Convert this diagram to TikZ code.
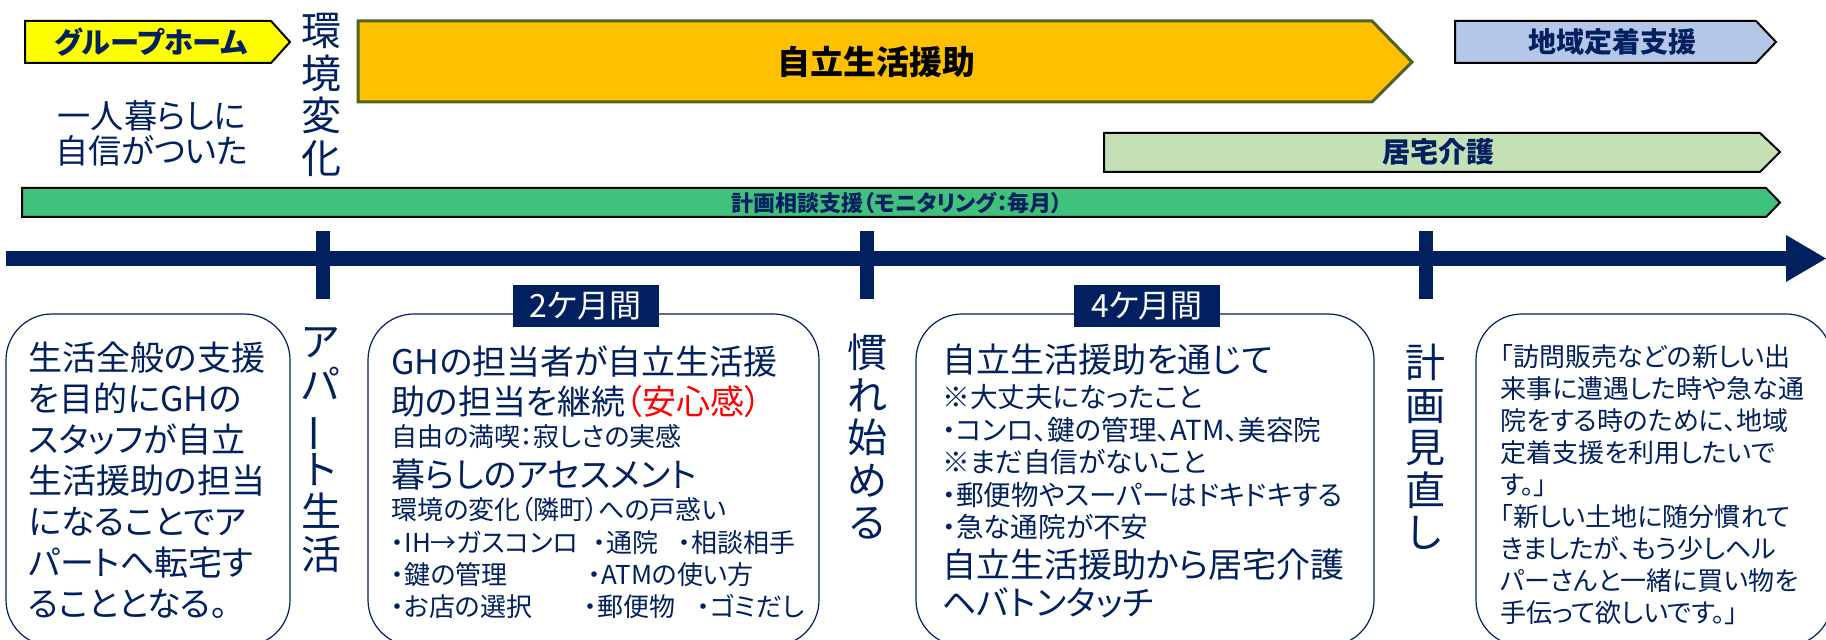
\documentclass[tikz,border=0pt]{standalone}
\usepackage{fontspec}
\usepackage{graphicx}
\setmainfont{Noto Sans CJK JP}[RawFeature=+palt]
\definecolor{navy}{RGB}{0,32,96}
\definecolor{ghyellow}{RGB}{255,255,0}
\definecolor{orangebar}{RGB}{255,192,0}
\definecolor{olive}{RGB}{79,98,40}
\definecolor{lightblue}{RGB}{180,199,231}
\definecolor{lightgreen}{RGB}{197,224,180}
\definecolor{midgreen}{RGB}{64,194,124}
\definecolor{alertred}{RGB}{255,0,0}
\begin{document}
\begin{tikzpicture}[x=0.5pt,y=-0.5pt,
  bigtxt/.style={inner sep=0pt, text=navy, anchor=base west, yshift=-6.5pt, font=\fontsize{17}{20}\selectfont},
  smalltxt/.style={inner sep=0pt, text=navy, anchor=base west, yshift=-5pt, font=\fontsize{13}{16}\selectfont},
  notetxt/.style={inner sep=0pt, text=navy, anchor=base west, yshift=-5.2pt, font=\fontsize{13.8}{16}\selectfont},
  quotetxt/.style={inner sep=0pt, text=navy, anchor=base west, yshift=-5pt, font=\fontsize{13}{16}\selectfont},
  vtext/.style={inner sep=0pt, text=navy, align=center, font=\fontsize{20}{21.25}\selectfont},
  rbox/.style={draw=navy, line width=0.6pt, rounded corners=23pt},
  periodlabel/.style={fill=navy, text=white, inner sep=0pt, minimum width=73pt, minimum height=21pt, font=\fontsize{16}{16}\selectfont},
  barshape/.style={draw=black, line width=1pt},
  barlabel/.style={inner sep=0pt, text=navy, font=\bfseries\fontsize{14}{14}\selectfont}
]
\useasboundingbox (0,0) rectangle (1826,640);
\clip (0,0) rectangle (1826,640);

% ---- top bars ----
\filldraw[barshape, fill=ghyellow] (25,21) -- (271,21) -- (290,42) -- (271,63) -- (25,63) -- cycle;
\node[barlabel, font=\bfseries\fontsize{14.6}{14.6}\selectfont] (gh) at (151,42) {グループホーム};

\filldraw[fill=orangebar, draw=olive, line width=1.5pt] (358,21) -- (1372,21) -- (1412,62) -- (1372,102) -- (358,102) -- cycle;
\node[inner sep=0pt, text=black, font=\bfseries\fontsize{16.5}{16.5}\selectfont] (jiritsu) at (876,62) {自立生活援助};

\filldraw[barshape, fill=lightblue] (1455,21) -- (1756,21) -- (1776,42) -- (1756,63) -- (1455,63) -- cycle;
\node[barlabel] (chiiki) at (1612,42) {地域定着支援};

\filldraw[barshape, fill=lightgreen] (1104,133) -- (1760,133) -- (1780,152) -- (1760,172) -- (1104,172) -- cycle;
\node[barlabel] (kyotaku) at (1438,152) {居宅介護};

\filldraw[barshape, fill=midgreen] (22,188) -- (1766,188) -- (1780,202.5) -- (1766,217) -- (22,217) -- cycle;
\node[inner sep=0pt, text=navy, font=\bfseries\fontsize{11}{11}\selectfont] (keikaku) at (897,202.5) {計画相談支援（モニタリング：毎月）};

\node[inner sep=0pt, text=navy, align=center, font=\fontsize{16.6}{17.5}\selectfont] (hitori) at (152,133) {一人暮らしに\\自信がついた};

\node[vtext] (kankyo) at (321,95) {環\\境\\変\\化};

% ---- timeline ----
\fill[navy] (6,251) rectangle (1788,266);
\fill[navy] (1786,235) -- (1826,258.5) -- (1786,282) -- cycle;
\fill[navy] (316,231) rectangle (330,299);
\fill[navy] (860,231) rectangle (874,299);
\fill[navy] (1419,231) rectangle (1433,299);

\node[vtext] (apart) at (321,450) {ア\\パ\\\rotatebox[origin=c]{90}{ー}\\ト\\生\\活};
\node[vtext] (nare) at (867,437) {慣\\れ\\始\\め\\る};
\node[vtext] (minaoshi) at (1425,447) {計\\画\\見\\直\\し};

% ---- rounded boxes ----
\draw[rbox] (6,314) rectangle (290,646);
\draw[rbox] (368,314) rectangle (819,646);
\draw[rbox] (916,314) rectangle (1374,646);
\draw[rbox] (1476,314) rectangle (1832,646);

\node[periodlabel] (two) at (585.5,306) {2ケ月間};
\node[periodlabel] (four) at (1147,306) {4ケ月間};

% box 1
\foreach \t [count=\i from 0] in {生活全般の支援, を目的にGHの, スタッフが自立, 生活援助の担当, になることでア, パートへ転宅す, ることとなる。}
  \node[bigtxt] (bA\i) at (28,358+41*\i) {\t};

% box 2
\node[bigtxt] (bB1) at (391,362) {GHの担当者が自立生活援};
\node[bigtxt] (bB2) at (391,402) {助の担当を継続{\color{alertred}（安心感）}};
\node[smalltxt] (bB3) at (391,437) {自由の満喫：寂しさの実感};
\node[bigtxt] (bB4) at (391,475) {暮らしのアセスメント};
\node[smalltxt] (bB5) at (391,510) {環境の変化（隣町）への戸惑い};
\node[smalltxt] (bB6a) at (391,543) {・IH→ガスコンロ};
\node[smalltxt] (bB6b) at (593,543) {・通院};
\node[smalltxt] (bB6c) at (678,543) {・相談相手};
\node[smalltxt] (bB7a) at (391,575) {・鍵の管理};
\node[smalltxt] (bB7b) at (588,575) {・ATMの使い方};
\node[smalltxt] (bB8a) at (391,607) {・お店の選択};
\node[smalltxt] (bB8b) at (584,607) {・郵便物};
\node[smalltxt] (bB8c) at (697,607) {・ゴミだし};

% box 3
\node[bigtxt] (bC1) at (942,360) {自立生活援助を通じて};
\node[notetxt] (bC2) at (942,397) {※大丈夫になったこと};
\node[notetxt] (bC3) at (942,430) {・コンロ、鍵の管理、ATM、美容院};
\node[notetxt] (bC4) at (942,462) {※まだ自信がないこと};
\node[notetxt] (bC5) at (942,495) {・郵便物やスーパーはドキドキする};
\node[notetxt] (bC6) at (942,527) {・急な通院が不安};
\node[bigtxt] (bC7) at (942,565) {自立生活援助から居宅介護};
\node[bigtxt] (bC8) at (942,603) {ヘバトンタッチ};

% box 4
\foreach \t [count=\i from 0] in {「訪問販売などの新しい出, 来事に遭遇した時や急な通, 院をする時のために、地域, 定着支援を利用したいで, す。」, 「新しい土地に随分慣れて, きましたが、もう少しヘル, パーさんと一緒に買い物を, 手伝って欲しいです。」}
  \node[quotetxt] (bD\i) at (1500,357+32*\i) {\t};

\end{tikzpicture}
\end{document}
